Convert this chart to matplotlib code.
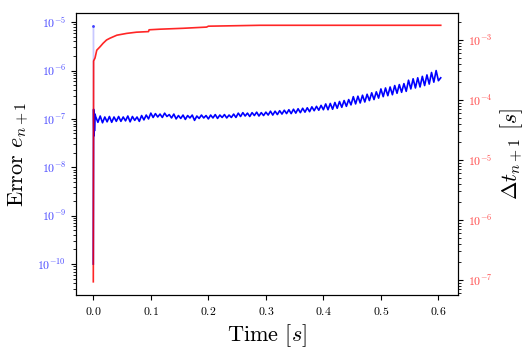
import numpy as np
import matplotlib
matplotlib.use("Agg")
import matplotlib.pyplot as plt

plt.rcParams["font.family"] = "serif"
plt.rcParams["font.serif"] = ["cmr10"]
plt.rcParams["mathtext.fontset"] = "cm"
plt.rcParams["axes.formatter.use_mathtext"] = True

# error e_{n+1}, stored as log10 values
t_start = [0.0, 0.0005, 0.001, 0.0015, 0.002, 0.003]
err_start = [-10.0, -6.8, -7.35, -6.85, -7.25, -6.9]

t_err = [0.004, 0.008, 0.012, 0.016, 0.02, 0.024, 0.028, 0.032, 0.036, 0.04,
         0.044, 0.048, 0.052, 0.056, 0.06, 0.064, 0.068, 0.072, 0.076, 0.08,
         0.084, 0.088, 0.092, 0.096, 0.1, 0.104, 0.108, 0.112, 0.116, 0.12,
         0.124, 0.128, 0.132, 0.136, 0.14, 0.144, 0.148, 0.152, 0.156, 0.16,
         0.164, 0.168, 0.172, 0.176, 0.18, 0.184, 0.188, 0.192, 0.196, 0.2,
         0.204, 0.208, 0.212, 0.216, 0.22, 0.224, 0.228, 0.232, 0.236, 0.24,
         0.244, 0.248, 0.252, 0.256, 0.26, 0.264, 0.268, 0.272, 0.276, 0.28,
         0.284, 0.288, 0.292, 0.296, 0.3, 0.304, 0.308, 0.312, 0.316, 0.32,
         0.324, 0.328, 0.332, 0.336, 0.34, 0.344, 0.348, 0.352, 0.356, 0.36,
         0.364, 0.368, 0.372, 0.376, 0.38, 0.384, 0.388, 0.392, 0.396, 0.4,
         0.404, 0.408, 0.412, 0.416, 0.42, 0.424, 0.428, 0.432, 0.436, 0.44,
         0.444, 0.448, 0.452, 0.456, 0.46, 0.464, 0.468, 0.472, 0.476, 0.48,
         0.484, 0.488, 0.492, 0.496, 0.5, 0.504, 0.508, 0.512, 0.516, 0.52,
         0.524, 0.528, 0.532, 0.536, 0.54, 0.544, 0.548, 0.552, 0.556, 0.56,
         0.564, 0.568, 0.572, 0.576, 0.58, 0.584, 0.588, 0.592, 0.596, 0.6,
         0.604]
err_log = [-6.95, -7.07, -6.94, -7.08, -6.96, -7.06, -6.95, -7.07, -6.96, -7.05,
           -6.95, -7.05, -6.96, -7.04, -6.94, -7.06, -6.95, -7.03, -6.96, -7.05,
           -6.93, -7.02, -6.92, -7.0, -6.88, -6.97, -6.89, -6.96, -6.90, -6.97,
           -6.88, -6.95, -6.91, -6.98, -6.90, -7.0, -6.93, -6.99, -6.92, -7.01,
           -6.93, -6.98, -6.92, -7.03, -6.94, -6.99, -6.92, -6.98, -6.93, -7.0,
           -6.92, -6.98, -6.91, -6.99, -6.92, -6.97, -6.91, -6.98, -6.92, -6.97,
           -6.90, -6.97, -6.88, -6.95, -6.87, -6.94, -6.88, -6.95, -6.87, -6.93,
           -6.86, -6.94, -6.87, -6.93, -6.86, -6.92, -6.84, -6.92, -6.84, -6.91,
           -6.83, -6.90, -6.82, -6.89, -6.81, -6.89, -6.80, -6.88, -6.79, -6.87,
           -6.78, -6.86, -6.77, -6.85, -6.75, -6.83, -6.74, -6.82, -6.72, -6.81,
           -6.69, -6.81, -6.68, -6.80, -6.66, -6.78, -6.64, -6.76, -6.62, -6.74,
           -6.60, -6.71, -6.54, -6.69, -6.53, -6.67, -6.51, -6.65, -6.49, -6.62,
           -6.46, -6.60, -6.44, -6.57, -6.38, -6.54, -6.36, -6.52, -6.34, -6.50,
           -6.31, -6.47, -6.29, -6.45, -6.27, -6.43, -6.20, -6.38, -6.17, -6.36,
           -6.15, -6.34, -6.12, -6.31, -6.09, -6.28, -6.04, -6.24, -6.00, -6.21,
           -6.15]

# faint first-step spike of the error
t_spike = [0.0, 0.0003, 0.0006]
err_spike = [1e-10, 8.5e-6, 1.5e-7]

# time step dt_{n+1}, stored as log10 values
t_dt = [0.0, 0.0005, 0.003, 0.006, 0.012, 0.017, 0.023, 0.029, 0.041, 0.058,
        0.075, 0.096, 0.097, 0.116, 0.156, 0.197, 0.2, 0.29, 0.604]
dt_log = [-7.03, -3.35, -3.30, -3.17, -3.11, -3.055, -3.0, -2.97, -2.92, -2.89,
          -2.87, -2.86, -2.83, -2.82, -2.805, -2.785, -2.77, -2.755, -2.755]

t_blue = np.array(t_start + t_err)
e_blue = 10.0 ** np.array(err_start + err_log)
dt_red = 10.0 ** np.array(dt_log)

fig = plt.figure(figsize=(5.31, 3.54), dpi=100)
ax = fig.add_axes([0.143, 0.1667, 0.7195, 0.7966])
ax.plot(t_spike, err_spike, color="#c8c8ff", lw=1)
ax.plot(t_spike[1], err_spike[1], ".", color="#4040ff", ms=2)
ax.plot(t_blue, e_blue, color="blue", lw=1.2)
ax.set_yscale("log")
ax.set_ylim(10 ** -10.64, 10 ** -4.81)
ax.set_xlim(-0.0302, 0.634)
ax.set_xlabel("Time $[s]$", fontsize=16)
ax.set_ylabel("Error $e_{n+1}$", fontsize=16)
ax.tick_params(axis="y", labelcolor="#4848ff", labelsize=8.5)
ax.tick_params(axis="x", labelsize=8.5)

ax2 = ax.twinx()
ax2.plot(t_dt, dt_red, color="red", lw=1.2, alpha=0.85)
ax2.set_yscale("log")
ax2.set_ylim(10 ** -7.25, 10 ** -2.55)
ax2.set_ylabel("$\\Delta t_{n+1}$ $[s]$", fontsize=16)
ax2.tick_params(axis="y", labelcolor="#ff4848", labelsize=8.5)

fig.savefig("out.png", dpi=100)
